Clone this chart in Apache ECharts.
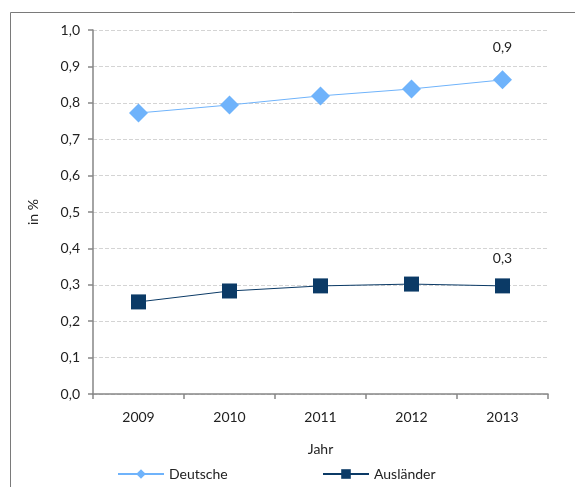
<!DOCTYPE html>
<html><head><meta charset="utf-8">
<script src="https://cdn.jsdelivr.net/npm/echarts@6/dist/echarts.min.js"></script>
<style>html,body{margin:0;padding:0;background:#fff}#c{width:575px;height:487px}</style>
</head><body><div id="c"></div>
<script>
const categories = ['2009', '2010', '2011', '2012', '2013'];
const deutsche = [0.772, 0.794, 0.819, 0.838, 0.863];
const auslaender = [0.253, 0.283, 0.297, 0.302, 0.297];
const labelsDeutsche = ['', '', '', '', '0,9'];
const labelsAuslaender = ['', '', '', '', '0,3'];

const FONT = 'Lato';
const FS = 14;
const chart = echarts.init(document.getElementById('c'), null, {renderer: 'canvas'});
function lastLabel(labels, dist) {
  return {show: true, position: 'top', distance: dist, color: '#222', fontFamily: FONT, fontSize: FS,
    formatter: p => labels[p.dataIndex]};
}
const legendBase = {bottom: 1, itemWidth: 46, itemHeight: 12, itemGap: 10,
  textStyle: {color: '#222', fontSize: FS, fontFamily: FONT, padding: [0, 0, 0, 0]}};
chart.setOption({
  animation: false,
  textStyle: {fontFamily: FONT},
  graphic: [{type: 'polyline', shape: {points: [[10.5, 487], [10.5, 12.5], [575, 12.5]]},
    style: {stroke: '#7a7a7a', lineWidth: 1, fill: null}}],
  grid: {left: 93, right: 27, top: 30, bottom: 93, containLabel: false},
  xAxis: {
    type: 'category', data: categories, boundaryGap: true,
    name: 'Jahr', nameLocation: 'middle', nameGap: 48,
    nameTextStyle: {color: '#222', fontSize: FS, fontFamily: FONT},
    axisLine: {lineStyle: {color: '#868686', width: 1.5}},
    axisTick: {show: true, inside: false, length: 5, interval: 0, lineStyle: {color: '#868686', width: 1.5}},
    axisLabel: {color: '#222', fontSize: FS, margin: 16, fontFamily: FONT}
  },
  yAxis: {
    type: 'value', min: 0, max: 1, interval: 0.1,
    name: 'in %', nameLocation: 'middle', nameGap: 53, nameRotate: 90,
    nameTextStyle: {color: '#222', fontSize: FS, fontFamily: FONT},
    axisLine: {show: true, lineStyle: {color: '#868686', width: 1.5}},
    axisTick: {show: true, inside: false, length: 5, lineStyle: {color: '#868686', width: 1.5}},
    axisLabel: {color: '#222', fontSize: FS, margin: 13, fontFamily: FONT,
      formatter: v => v.toFixed(1).replace('.', ',')},
    splitLine: {show: true, lineStyle: {color: '#d4d4d4', type: 'dashed', width: 1}}
  },
  legend: [
    Object.assign({}, legendBase, {left: 112, data: ['Deutsche']}),
    Object.assign({}, legendBase, {left: 317, data: ['Ausländer']})
  ],
  series: [
    {name: 'Deutsche', type: 'line', data: deutsche, symbol: 'diamond', symbolSize: 19,
      itemStyle: {color: '#6fb3fb'}, lineStyle: {color: '#6fb3fb', width: 1},
      label: lastLabel(labelsDeutsche, 16)},
    {name: 'Ausländer', type: 'line', data: auslaender, symbol: 'rect', symbolSize: 15,
      itemStyle: {color: '#0b3a66'}, lineStyle: {color: '#0b3a66', width: 1},
      label: lastLabel(labelsAuslaender, 13)}
  ]
});
</script></body></html>
